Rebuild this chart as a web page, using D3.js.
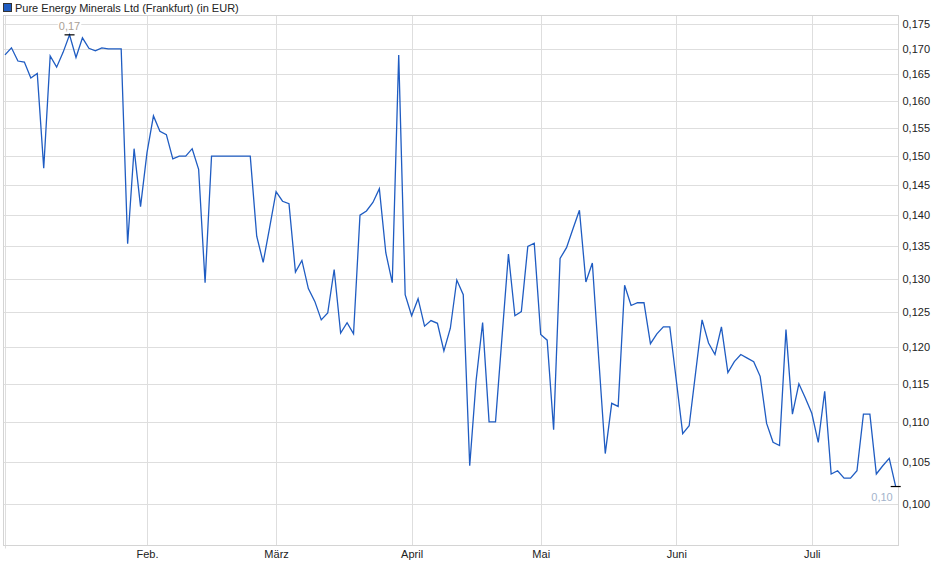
<!DOCTYPE html>
<html>
<head>
<meta charset="utf-8">
<script src="https://cdn.jsdelivr.net/npm/d3@7"></script>
<style>
  body { margin: 0; background: #fff; }
  svg { display: block; font-family: "Liberation Sans", Arial, sans-serif; }
</style>
</head>
<body>
<svg width="940" height="579"></svg>
<script>
// daily closing prices (EUR), one per trading day
const prices = [
  0.1688, 0.1702, 0.1676, 0.1674, 0.1643, 0.1652, 0.1479, 0.1686, 0.1664, 0.1693,
  0.1728, 0.1683, 0.1722, 0.1701, 0.1696, 0.1702, 0.1700, 0.1700, 0.1700, 0.1354,
  0.1513, 0.1414, 0.1506, 0.1572, 0.1544, 0.1538, 0.1495, 0.1500, 0.1500, 0.1513,
  0.1477, 0.1294, 0.1500, 0.1500, 0.1500, 0.1500, 0.1500, 0.1500, 0.1500, 0.1366,
  0.1325, 0.1380, 0.1439, 0.1423, 0.1419, 0.1310, 0.1328, 0.1285, 0.1266, 0.1239,
  0.1249, 0.1314, 0.1220, 0.1235, 0.1219, 0.1400, 0.1407, 0.1421, 0.1444, 0.1340,
  0.1294, 0.1688, 0.1276, 0.1245, 0.1270, 0.1230, 0.1238, 0.1234, 0.1195, 0.1227,
  0.1298, 0.1276, 0.1045, 0.1155, 0.1235, 0.1100, 0.1100, 0.1214, 0.1338, 0.1245,
  0.1251, 0.1350, 0.1355, 0.1218, 0.1210, 0.1090, 0.1331, 0.1348, 0.1378, 0.1408,
  0.1295, 0.1324, 0.1183, 0.1060, 0.1124, 0.1120, 0.1290, 0.1260, 0.1264, 0.1264,
  0.1205, 0.1219, 0.1229, 0.1229, 0.1155, 0.1085, 0.1095, 0.1165, 0.1239, 0.1206,
  0.1190, 0.1229, 0.1165, 0.1180, 0.1190, 0.1185, 0.1180, 0.1160, 0.1098, 0.1074,
  0.1070, 0.1225, 0.1110, 0.1150, 0.1131, 0.1111, 0.1074, 0.1140, 0.1035, 0.1039,
  0.1030, 0.1030, 0.1039, 0.1110, 0.1110, 0.1035, 0.1045, 0.1054, 0.1020
];

// month labels and the trading-day index where each month begins
const monthLabels = ["Feb.", "März", "April", "Mai", "Juni", "Juli"];
const monthIndex = [22, 42, 63, 83, 104, 125];

const yTicks = [0.100, 0.105, 0.110, 0.115, 0.120, 0.125, 0.130, 0.135,
                0.140, 0.145, 0.150, 0.155, 0.160, 0.165, 0.170, 0.175];

const title = "Pure Energy Minerals Ltd (Frankfurt) (in EUR)";

const svg = d3.select("svg");
const plot = { left: 3.5, top: 15.5, right: 898.5, bottom: 545.5 };
const lineColor = "#1f5cc2";

const de = d3.formatLocale({ decimal: ",", thousands: ".", grouping: [3], currency: ["", "€"] });
const fmt3 = de.format(".3f");
const fmt2 = de.format(".2f");

const x = d3.scaleLinear()
  .domain([0, prices.length - 1])
  .range([5, 895.7]);

const y = d3.scaleLog()
  .domain([0.1, 0.175])
  .range([503.5, 24]);

// gridlines
svg.append("g")
  .selectAll("line")
  .data(yTicks)
  .join("line")
  .attr("x1", plot.left)
  .attr("x2", plot.right)
  .attr("y1", (d) => Math.round(y(d)) + 0.5)
  .attr("y2", (d) => Math.round(y(d)) + 0.5)
  .attr("stroke", "#dedede");

svg.append("g")
  .selectAll("line")
  .data(monthIndex)
  .join("line")
  .attr("x1", (d) => Math.round(x(d)) + 0.5)
  .attr("x2", (d) => Math.round(x(d)) + 0.5)
  .attr("y1", plot.top)
  .attr("y2", plot.bottom)
  .attr("stroke", "#dedede");

svg.append("line")
  .attr("x1", 5.5).attr("x2", 5.5)
  .attr("y1", plot.top).attr("y2", plot.bottom + 3)
  .attr("stroke", "#dedede");

// frame
svg.append("rect")
  .attr("x", plot.left)
  .attr("y", plot.top)
  .attr("width", plot.right - plot.left)
  .attr("height", plot.bottom - plot.top)
  .attr("fill", "none")
  .attr("stroke", "#d4d4d4");

// right axis
const yAxis = d3.axisRight(y)
  .tickValues(yTicks)
  .tickFormat(fmt3)
  .tickSize(0)
  .tickPadding(4);

svg.append("g")
  .attr("transform", `translate(${plot.right},0)`)
  .call(yAxis)
  .call((g) => g.select(".domain").remove())
  .selectAll("text")
  .attr("font-size", 11)
  .attr("font-family", "Liberation Sans, Arial, sans-serif")
  .attr("fill", "#222");

// bottom axis
const xAxis = d3.axisBottom(x)
  .tickValues(monthIndex)
  .tickFormat((d, i) => monthLabels[i])
  .tickSize(0)
  .tickPadding(5);

svg.append("g")
  .attr("transform", `translate(0,${plot.bottom})`)
  .call(xAxis)
  .call((g) => g.select(".domain").remove())
  .selectAll("text")
  .attr("font-size", 11)
  .attr("font-family", "Liberation Sans, Arial, sans-serif")
  .attr("fill", "#222");

// price line
const line = d3.line()
  .x((d, i) => x(i))
  .y((d) => y(d));

svg.append("path")
  .attr("d", line(prices))
  .attr("fill", "none")
  .attr("stroke", lineColor)
  .attr("stroke-width", 1.3)
  .attr("stroke-linejoin", "miter");

// high / low markers
const maxI = d3.maxIndex(prices);
const minI = d3.minIndex(prices);

function valueLabel(tx, ty, anchor, color, str) {
  const t = svg.append("text")
    .attr("x", tx)
    .attr("y", ty)
    .attr("text-anchor", anchor)
    .attr("font-size", 11)
    .attr("fill", color)
    .text(str);
  const b = t.node().getBBox();
  svg.insert("rect", () => t.node())
    .attr("x", b.x - 1).attr("y", b.y)
    .attr("width", b.width + 2).attr("height", b.height)
    .attr("fill", "#fff");
}

valueLabel(x(maxI), y(prices[maxI]) - 5, "middle", "#aaa196", fmt2(prices[maxI]));
svg.append("line")
  .attr("x1", x(maxI) - 5).attr("x2", x(maxI) + 5)
  .attr("y1", y(prices[maxI])).attr("y2", y(prices[maxI]))
  .attr("stroke", "#000").attr("stroke-width", 1.2);

valueLabel(x(minI) - 3, y(prices[minI]) + 14, "end", "#a3b3cb", fmt2(prices[minI]));
svg.append("line")
  .attr("x1", x(minI) - 5).attr("x2", x(minI) + 5)
  .attr("y1", y(prices[minI])).attr("y2", y(prices[minI]))
  .attr("stroke", "#000").attr("stroke-width", 1.2);

// legend / title
svg.append("rect")
  .attr("x", 3.5).attr("y", 3.5)
  .attr("width", 8).attr("height", 8)
  .attr("fill", lineColor)
  .attr("stroke", "#333");

svg.append("text")
  .attr("x", 15)
  .attr("y", 12)
  .attr("font-size", 11)
  .attr("fill", "#222")
  .text(title);
</script>
</body>
</html>
